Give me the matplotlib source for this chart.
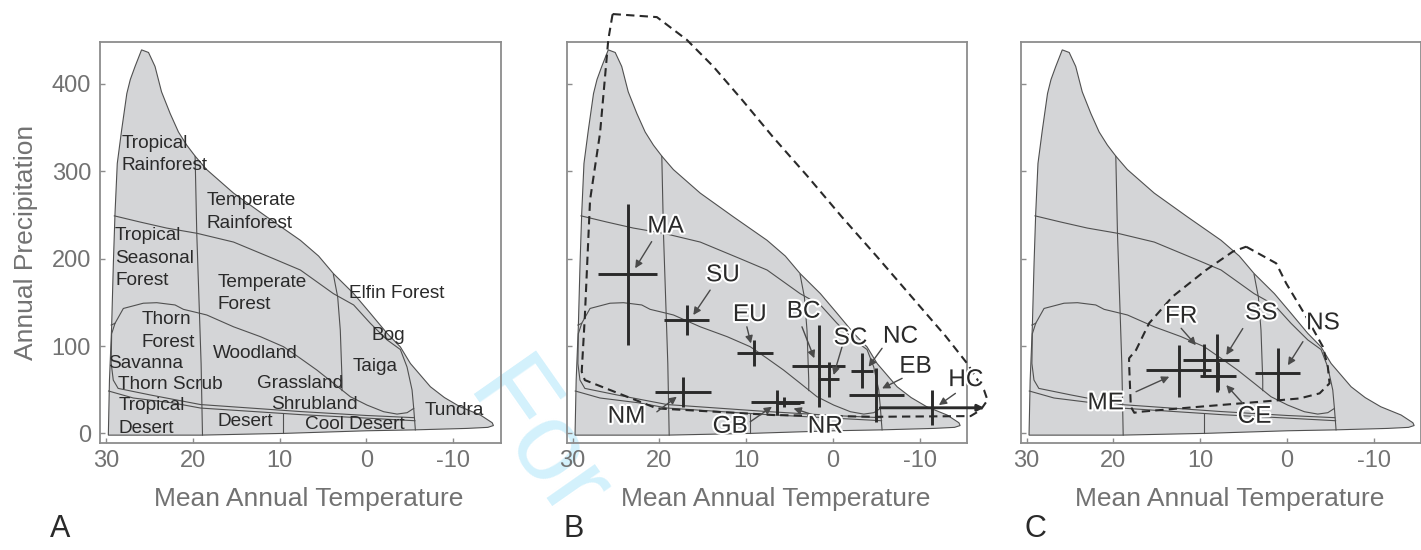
import matplotlib
matplotlib.use("Agg")
import matplotlib.pyplot as plt
import matplotlib.patheffects as pe

plt.rcParams['font.family'] = ['Liberation Sans', 'DejaVu Sans']
plt.rcParams['axes.unicode_minus'] = False

# Whittaker biome outline: mean annual temperature (C) vs annual precipitation (cm)
outline_t = [29.73, 29.6, 29.35, 29.15, 28.96, 28.7, 28.2, 27.6, 27.2, 26.65, 25.9, 25.1,
             24.35, 23.6, 22.6, 21.65, 20.7, 19.7, 18.4, 15.3, 11.5, 7.6, 5.5, 3.8, 1.46,
             -0.46, -2.39, -3.92, -5.08, -7.38, -9.0, -10.8, -13.15, -14.5, -14.65, -14.0,
             -11.6, -5.46, -0.08, 9.5, 19.15]
outline_p = [-2, 61, 122, 195, 252, 309, 347, 389, 405, 420, 439, 436,
             420, 391, 366, 345, 330, 317, 302, 275, 248, 221, 203, 183, 160,
             137.5, 114.5, 99, 80, 53.4, 41, 30.5, 21, 12.2, 9, 6.9,
             5.7, 4, 3, 0, -2]

# lines dividing the biomes
tropic_t = [19.73, 19.54, 19.23, 19.04, 18.88]
tropic_p = [317, 229, 137, 80, -2]
wet_t = [29.04, 26.1, 23.0, 19.5, 15.3, 10.7, 7.6, 3.8, 1.46, -0.46, -2.39, -3.92,
         -4.69, -5.27, -5.46, -5.65]
wet_p = [249, 242, 235, 229, 219, 200, 187, 160, 147, 126, 107, 96,
         76, 49.6, 28.6, 4]
boreal_t = [3.8, 3.3, 3.0, 2.8, 2.8]
boreal_p = [182, 156, 118, 61, 49]
savanna_t = [29.4, 28.96, 28.0, 25.7, 24.15, 22.04, 21.08, 19.15, 18.38, 15.3, 12.2,
             9.54, 7.6, 5.7, 3.77, 1.85, -0.08, -2.0, -3.54, -4.7, -5.46]
savanna_p = [124, 126, 143, 149, 149.6, 147, 142, 137.4, 135.5, 122, 110.7,
             99.2, 85.9, 72.5, 57.3, 42, 32.4, 24.8, 22.1, 23.7, 28.6]
scrub_t = [28.96, 29.35, 29.4, 29.16, 28.6, 24.9, 19.1, 7.6, 0.0, -5.5]
scrub_p = [126, 114, 80, 61, 51.5, 44, 33, 25, 20.5, 18]
desert_t = [29.7, 26.85, 22.4, 19.1, 7.6, 0.0, -5.6]
desert_p = [48.5, 40.5, 35, 29, 21.5, 17.5, 14.5]
cool_t = [9.6, 9.6]
cool_p = [22, 0]

biome_names = ["Tropical\nRainforest", "Temperate\nRainforest", "Tropical\nSeasonal\nForest",
               "Temperate\nForest", "Elfin Forest", "Thorn\nForest", "Woodland", "Bog",
               "Savanna", "Taiga", "Thorn Scrub", "Grassland", "Tropical\nDesert",
               "Shrubland", "Tundra", "Desert", "Cool Desert"]
biome_t = [28.2, 18.46, 28.96, 17.15, 2.04, 25.9, 17.7, -0.58,
           29.73, 1.54, 28.58, 12.6, 28.58, 11.0, -6.7, 17.2, 7.1]
biome_p = [342, 276, 236, 183, 170, 140, 101.5, 121.5,
           89.5, 86, 65.5, 66.5, 41.5, 42.3, 36, 23.5, 19.5]

# panel B sites: centre and range of temperature / precipitation
b_sites = ["MA", "SU", "NM", "EU", "BC", "SC", "NC", "EB", "HC", "GB", "NR"]
b_t = [23.65, 16.85, 17.3, 9.05, 1.62, 0.51, -3.35, -5.0, -11.4, 6.46, 5.7]
b_t_lo = [27.05, 19.43, 20.5, 11.1, 4.73, 1.78, -2.1, -1.8, -5.46, 9.46, 6.3]
b_t_hi = [20.3, 14.35, 14.1, 6.97, -1.42, -0.73, -4.6, -8.15, -17.4, 3.4, 3.8]
b_p = [182, 130, 47.7, 91.6, 77, 62, 71.4, 44, 29.3, 35.5, 35]
b_p_lo = [101, 112.7, 30.5, 77, 30.5, 42, 51.5, 13.3, 9.5, 21, 29.8]
b_p_hi = [263, 147, 64.9, 107, 124, 82, 91.6, 74.5, 49.6, 49.6, 42]

# panel B climate envelope
b_env_t = [25.4, 20.3, 16.85, 13.8, 10.5, 6.9, 3.0, -1.0, -5.0, -9.0, -13.0, -15.46,
           -17.4, -17.8, -17.0, -15.85, -4.7, 6.85, 20.3, 28.6, 28.96, 28.6, 28.0,
           26.85, 26.27, 25.9, 25.4]
b_env_p = [480, 476.5, 450.5, 420, 382, 339, 295, 248, 203, 157, 111, 80,
           49.6, 38.1, 26.7, 19.8, 19, 21, 28.6, 61, 70.6, 133.6, 267,
           343.6, 408.5, 450.5, 480]

# panel C sites
c_sites = ["ME", "FR", "SS", "CE", "NS"]
c_t = [12.41, 9.6, 8.05, 7.9, 1.06]
c_t_lo = [16.26, 12.03, 9.9, 9.99, 3.64]
c_t_hi = [8.75, 7.6, 5.48, 5.86, -1.52]
c_p = [72.5, 84, 84, 66, 68.7]
c_p_lo = [42, 65, 47.7, 50, 38.1]
c_p_hi = [101, 102, 113.7, 82, 97.4]

# panel C climate envelope
c_env_t = [4.71, 1.25, 0.1, -2.2, -4.13, -4.7, -4.9, -3.75, -1.44, 0.87, 10.1, 17.0,
           17.6, 18.0, 18.2, 18.2, 17.4, 15.9, 13.2, 9.33, 6.26, 4.71]
c_env_p = [213.7, 194.7, 171.8, 133.6, 99.2, 76.3, 57.3, 45.8, 40, 38, 30.5, 24.7,
           23.6, 30.5, 80, 86, 95.4, 126, 156.5, 187, 208, 213.7]

# label placement (text centre, arrow start, arrow tip)
b_label_xy = {"MA": (19.3, 236.7), "SU": (12.7, 181), "EU": (9.6, 135.5), "BC": (3.4, 139.3),
              "SC": (-2.0, 108.8), "NC": (-7.77, 110.7), "EB": (-9.5, 76.3), "HC": (-15.3, 61),
              "NM": (23.8, 19), "GB": (11.85, 7.6), "NR": (0.9, 7.6)}
b_arrows = {"MA": ((20.9, 219.5), (22.8, 189)), "SU": ((14.16, 164), (16.1, 135.5)),
            "EU": ((9.93, 122), (9.46, 103)), "BC": ((3.58, 122), (2.16, 86)),
            "SC": ((-1.04, 99.2), (-0.07, 66.8)), "NC": ((-5.65, 97.4), (-4.1, 76.3)),
            "EB": ((-7.96, 63), (-5.65, 51.5)), "HC": ((-14.1, 45.8), (-12.2, 32.4)),
            "NM": ((20.3, 24.7), (18.0, 42)), "GB": ((9.54, 13.3), (7.04, 30.5)),
            "NR": ((2.24, 21), (4.55, 28.6))}
c_label_xy = {"FR": (12.2, 133.6), "SS": (2.98, 137.4), "NS": (-4.13, 126),
              "ME": (20.9, 34.4), "CE": (3.75, 19)}
c_arrows = {"FR": ((12.2, 120.3), (10.5, 101)), "SS": ((5.1, 120), (7.0, 89.7)),
            "NS": ((-1.83, 105), (-0.1, 78)), "ME": ((17.4, 47.7), (13.57, 64.9)),
            "CE": ((5.1, 34.4), (7.0, 55.3))}

FILL = '#d4d5d7'
EDGE = '#505050'
INK = '#2a2a2a'
GREY = '#727272'


def draw_biomes(ax):
    ax.fill(outline_t, outline_p, facecolor=FILL, edgecolor=EDGE, lw=0.8, zorder=1)
    for xs, ys in [(tropic_t, tropic_p), (wet_t, wet_p), (boreal_t, boreal_p),
                   (savanna_t, savanna_p), (scrub_t, scrub_p), (desert_t, desert_p),
                   (cool_t, cool_p)]:
        ax.plot(xs, ys, color=EDGE, lw=0.8, zorder=2)


def style_axes(ax, show_y):
    ax.set_facecolor('none')
    ax.set_xlim(30.69, -15.46)
    ax.set_ylim(-11, 448)
    ax.set_xticks([30, 20, 10, 0, -10])
    ax.set_yticks([0, 100, 200, 300, 400])
    for s in ax.spines.values():
        s.set_color('#8c8c8c')
        s.set_linewidth(1.3)
    ax.tick_params(direction='in', length=3.5, width=1, color='#8c8c8c',
                   labelsize=17, labelcolor=GREY)
    ax.tick_params(axis='x', pad=5)
    ax.tick_params(axis='y', pad=6.5)
    if not show_y:
        ax.set_yticklabels([])
    ax.set_xlabel("Mean Annual Temperature", fontsize=19, color=GREY)
    ax.xaxis.set_label_coords(0.522, -0.11)


def draw_sites(ax, names, t, t_lo, t_hi, p, p_lo, p_hi, label_xy, arrows, env_t, env_p):
    ax.plot(env_t, env_p, color=INK, lw=1.5, ls=(0, (4, 2.5)), zorder=3, clip_on=False)
    for i, name in enumerate(names):
        ax.plot([t[i], t[i]], [p_lo[i], p_hi[i]], color=INK, lw=2.1, zorder=4,
                solid_capstyle='butt')
        if name == "HC":
            ax.annotate('', xy=(t_hi[i], p[i]), xytext=(t_lo[i], p[i]),
                        arrowprops=dict(arrowstyle='-|>', color=INK, lw=2.1,
                                        mutation_scale=9, shrinkA=0, shrinkB=0),
                        annotation_clip=False, zorder=4)
        else:
            ax.plot([t_lo[i], t_hi[i]], [p[i], p[i]], color=INK, lw=2.1, zorder=4,
                    solid_capstyle='butt')
    for name in names:
        tail, tip = arrows[name]
        ax.annotate('', xy=tip, xytext=tail,
                    arrowprops=dict(arrowstyle='-|>', color='#4a4a4a', lw=1.0,
                                    mutation_scale=11, shrinkA=0, shrinkB=0), zorder=5)
        lx, ly = label_xy[name]
        ax.text(lx, ly, name, fontsize=17.5, color=INK, ha='center', va='center', zorder=6,
                path_effects=[pe.withStroke(linewidth=3, foreground='white')])


fig = plt.figure(figsize=(14.21, 5.5), dpi=100)
w, h, bot = 400.5 / 1421, 401 / 550, 107 / 550
ax_a = fig.add_axes([100 / 1421, bot, w, h])
ax_b = fig.add_axes([566.7 / 1421, bot, w, h])
ax_c = fig.add_axes([1020.7 / 1421, bot, w, h])

for ax in (ax_a, ax_b, ax_c):
    draw_biomes(ax)
    style_axes(ax, ax is ax_a)

ax_a.set_ylabel("Annual Precipitation", fontsize=19, color=GREY)
ax_a.yaxis.set_label_coords(-0.155, 0.5)
for name, x, y in zip(biome_names, biome_t, biome_p):
    ax_a.text(x, y, name, fontsize=13.7, color=INK, ha='left', va='top',
              linespacing=1.42, zorder=5)

draw_sites(ax_b, b_sites, b_t, b_t_lo, b_t_hi, b_p, b_p_lo, b_p_hi,
           b_label_xy, b_arrows, b_env_t, b_env_p)
draw_sites(ax_c, c_sites, c_t, c_t_lo, c_t_hi, c_p, c_p_lo, c_p_hi,
           c_label_xy, c_arrows, c_env_t, c_env_p)

for letter, x in zip("ABC", [50, 564, 1025]):
    fig.text(x / 1421, 13 / 550, letter, fontsize=22, color=INK, ha='left', va='baseline')

# review watermark, kept behind the panels
fig.text(535 / 1421, 1 - 445 / 550, "For", fontsize=80, color='#d3f1fc', rotation=-55,
         ha='center', va='center', zorder=-5)

fig.savefig("out.png", dpi=100)
